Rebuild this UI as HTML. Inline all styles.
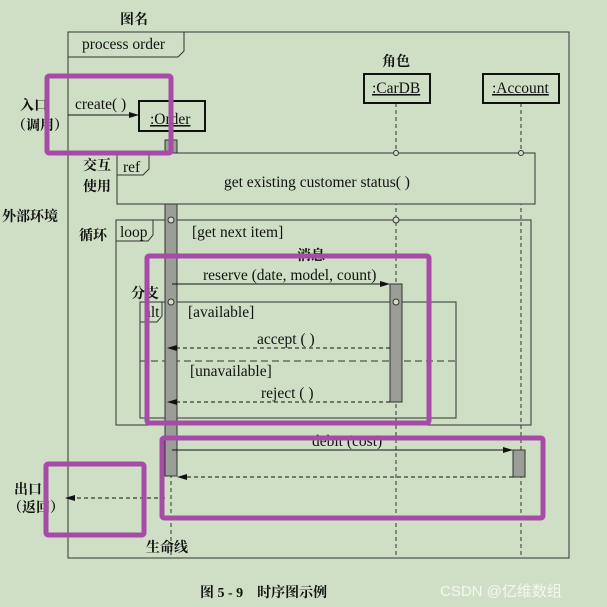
<!DOCTYPE html>
<html><head><meta charset="utf-8"><style>
html,body{margin:0;padding:0;background:#cfdfc5;}
svg{display:block}
text{font-family:"Liberation Serif","Noto Serif CJK SC",serif;fill:#111;}
.cn{font-family:"Liberation Serif","Noto Serif CJK SC",serif;font-weight:bold;font-size:14px;}
</style></head><body>
<svg width="607" height="607" viewBox="0 0 607 607" xmlns="http://www.w3.org/2000/svg">
<rect width="607" height="607" fill="#cfdfc5"/>
<defs>
<marker id="a" markerWidth="10" markerHeight="8" refX="9" refY="4" orient="auto" markerUnits="userSpaceOnUse"><path d="M0,1 L10,4 L0,7 z" fill="#111"/></marker>
</defs>
<g stroke="#333" fill="none" stroke-width="1">
<rect x="68" y="32" width="501" height="526"/>
<path d="M68,57 H178 L184,51 V32"/>
<line x1="171" y1="131" x2="171" y2="557" stroke-dasharray="4,3"/>
<line x1="396" y1="103" x2="396" y2="557" stroke-dasharray="4,3"/>
<line x1="521" y1="103" x2="521" y2="557" stroke-dasharray="4,3"/>
<rect x="117" y="153" width="418" height="51" fill="#cfdfc5"/>
<path d="M117,175 H143 L149,169 V153"/>
<rect x="116" y="220" width="415" height="205"/>
<path d="M116,241 H148 L153,235 V220"/>
<rect x="140" y="302" width="316" height="116"/>
<path d="M140,322 H157 L162,316 V302"/>
<line x1="140" y1="361" x2="456" y2="361" stroke-dasharray="7,4"/>
</g>
<g stroke="#111" stroke-width="2" fill="#cfdfc5">
<rect x="139" y="101" width="66" height="30"/>
<rect x="364" y="74" width="66" height="29"/>
<rect x="483" y="74" width="76" height="29"/>
</g>
<g fill="#9a9e96" stroke="#333" stroke-width="1">
<rect x="165" y="140" width="12" height="13"/>
<rect x="165" y="204" width="12" height="272"/>
<rect x="390" y="284" width="12" height="118"/>
<rect x="513" y="450" width="12" height="27"/>
</g>
<g fill="#cfdfc5" stroke="#333"><circle cx="171" cy="220" r="3"/><circle cx="396" cy="220" r="3"/><circle cx="171" cy="302" r="3"/><circle cx="396" cy="302" r="3"/><circle cx="396" cy="153" r="2.5"/><circle cx="521" cy="153" r="2.5"/></g>
<g stroke="#111" stroke-width="1" fill="none">
<line x1="68" y1="115" x2="138" y2="115" marker-end="url(#a)"/>
<line x1="172" y1="284" x2="389" y2="284" marker-end="url(#a)"/>
<line x1="390" y1="348" x2="168" y2="348" stroke-dasharray="4,3" marker-end="url(#a)"/>
<line x1="390" y1="402" x2="168" y2="402" stroke-dasharray="4,3" marker-end="url(#a)"/>
<line x1="172" y1="450" x2="512" y2="450" marker-end="url(#a)"/>
<line x1="513" y1="477" x2="178" y2="477" stroke-dasharray="4,3" marker-end="url(#a)"/>
<line x1="165" y1="498" x2="66" y2="498" stroke-dasharray="4,3" marker-end="url(#a)"/>
</g>
<g font-size="15.5">
<text x="82" y="49">process order</text>
<text x="150" y="124" text-decoration="underline">:Order</text>
<text x="372" y="93" text-decoration="underline">:CarDB</text>
<text x="492" y="93" text-decoration="underline">:Account</text>
<text x="75" y="109">create( )</text>
<text x="123" y="172">ref</text>
<text x="224" y="187">get existing customer status( )</text>
<text x="120" y="237">loop</text>
<text x="192" y="237">[get next item]</text>
<text x="203" y="280">reserve (date, model, count)</text>
<text x="144" y="317">alt</text>
<text x="188" y="317">[available]</text>
<text x="257" y="344">accept ( )</text>
<text x="190" y="376">[unavailable]</text>
<text x="261" y="398">reject ( )</text>
<text x="312" y="446">debit (cost)</text>
</g>
<g class="cn">
<text x="120" y="24">图名</text>
<text x="382" y="66">角色</text>
<text x="20" y="110">入口</text>
<text x="12" y="130">（调用）</text>
<text x="83" y="170">交互</text>
<text x="83" y="191">使用</text>
<text x="2" y="221">外部环境</text>
<text x="79" y="240">循环</text>
<text x="297" y="260">消息</text>
<text x="131" y="298">分支</text>
<text x="14" y="494">出口</text>
<text x="8" y="512">（返回）</text>
<text x="146" y="552">生命线</text>
<text x="200" y="597">图 5 - 9　时序图示例</text>
</g>
<text x="440" y="596" font-size="15" style="fill:#f4f7f0;font-family:'Liberation Sans','Noto Sans CJK SC',sans-serif">CSDN @亿维数组</text>
<g fill="none" stroke="#a64ca6" stroke-width="5">
<rect x="47" y="76" width="124" height="77" rx="2"/>
<rect x="147" y="256" width="282" height="167" rx="2"/>
<rect x="162" y="438" width="381" height="80" rx="2"/>
<rect x="46" y="464" width="98" height="71" rx="2"/>
</g>
</svg>
</body></html>
